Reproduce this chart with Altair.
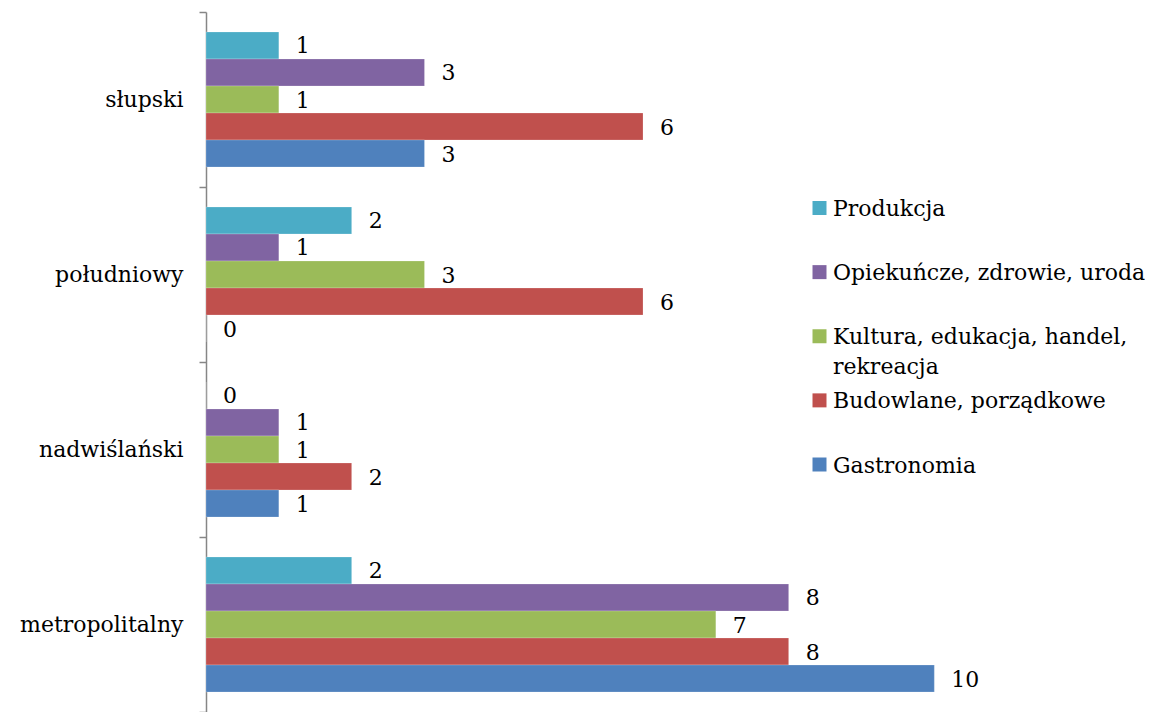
import altair as alt
import pandas as pd

regions = ["słupski", "południowy", "nadwiślański", "metropolitalny"]
series = [
    "Produkcja",
    "Opiekuńcze, zdrowie, uroda",
    "Kultura, edukacja, handel, rekreacja",
    "Budowlane, porządkowe",
    "Gastronomia",
]
legend_labels = [
    "Produkcja",
    "Opiekuńcze, zdrowie, uroda",
    "Kultura, edukacja, handel,\nrekreacja",
    "Budowlane, porządkowe",
    "Gastronomia",
]
colors = ["#4BACC6", "#8064A2", "#9BBB59", "#C0504D", "#4F81BD"]

produkcja = [1, 2, 0, 2]
opiekuncze = [3, 1, 1, 8]
kultura = [1, 3, 1, 7]
budowlane = [6, 6, 2, 8]
gastronomia = [3, 0, 1, 10]

values = [produkcja, opiekuncze, kultura, budowlane, gastronomia]

rows = []
for s, vals in zip(series, values):
    for r, v in zip(regions, vals):
        rows.append({"region": r, "series": s, "value": v})
df = pd.DataFrame(rows)
legend_df = pd.DataFrame({"series": series, "label": legend_labels})

FONT = "DejaVu Serif"
FS = 22

color = alt.Color("series:N", scale=alt.Scale(domain=series, range=colors), legend=None)
y_enc = alt.Y(
    "region:N",
    sort=regions,
    scale=alt.Scale(paddingInner=0, paddingOuter=0),
    axis=alt.Axis(
        title=None,
        tickBand="extent",
        tickSize=7,
        labelPadding=16,
        domainColor="#868686",
        tickColor="#868686",
        domainWidth=1.5,
        tickWidth=1.5,
        labelFont=FONT,
        labelFontSize=FS,
        labelColor="black",
    ),
)
yoff = alt.YOffset("series:N", sort=series, scale=alt.Scale(paddingInner=0, paddingOuter=0.74))
x_enc = alt.X("value:Q", scale=alt.Scale(domain=[0, 12], nice=False), axis=None)

base = alt.Chart(df)
bars = base.mark_bar(stroke="white", strokeOpacity=0.35, strokeWidth=0.6).encode(
    x=x_enc, y=y_enc, yOffset=yoff, color=color
)
labels = base.mark_text(
    align="left", baseline="middle", dx=17, dy=1, font=FONT, fontSize=FS, color="black"
).encode(x=x_enc, y=y_enc, yOffset=yoff, text="value:Q")

data_layer = alt.layer(bars, labels)

leg_y = alt.Y(
    "series:N",
    sort=series,
    scale=alt.Scale(type="point", domain=series, range=[196, 452.5], padding=0),
    axis=None,
)
leg_sq = alt.Chart(legend_df).mark_square(size=196, opacity=1).encode(
    x=alt.value(613.5), y=leg_y, color=color
)
leg_txt = alt.Chart(legend_df).mark_text(
    align="left", baseline="middle", dy=1, font=FONT, fontSize=FS, color="black",
    lineBreak="\n", lineHeight=30,
).encode(x=alt.value(627), y=leg_y, text="label:N")

chart = (
    alt.layer(data_layer, leg_sq, leg_txt)
    .resolve_scale(y="independent")
    .properties(
        width=874,
        height=700,
        background="white",
        autosize=alt.AutoSizeParams(type="none"),
        padding={"left": 198, "top": 4, "right": 66, "bottom": 0},
    )
    .configure_view(strokeWidth=0, stroke="transparent")
)

chart.save("out.html", embed_options={"renderer": "svg", "actions": False})
